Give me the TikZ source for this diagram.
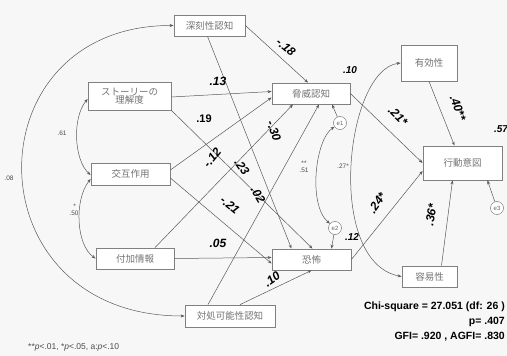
\documentclass[tikz,border=0pt]{standalone}
\usepackage{fontspec}
\setmainfont{Liberation Sans}
\newfontfamily\jp{Noto Sans CJK JP}
\usetikzlibrary{arrows.meta,calc}
\begin{document}
\begin{tikzpicture}[x=1pt,y=-1pt,
  box/.style={draw=black!50,line width=0.8pt,fill=white,font=\jp\fontsize{9.5}{10}\selectfont,text=black!55,inner sep=0pt,align=center},
  err/.style={circle,draw=black!60,fill=white,minimum size=13pt,inner sep=0pt,font=\fontsize{6}{6}\selectfont,text=black!60},
  pth/.style={draw=black!65,line width=0.5pt,-{Stealth[length=4pt,width=3pt]}},
  cor/.style={draw=black!65,line width=0.5pt,{Stealth[length=4pt,width=3pt]}-{Stealth[length=4pt,width=3pt]}},
  coef/.style={font=\bfseries\itshape\fontsize{12}{12}\selectfont,inner sep=0pt},
  r2/.style={font=\bfseries\itshape\fontsize{10}{10}\selectfont,inner sep=0pt},
  small/.style={font=\fontsize{6.5}{7}\selectfont,inner sep=0pt,align=center,text=black!70},
  stat/.style={font=\bfseries\fontsize{10.5}{11}\selectfont,inner sep=0pt,anchor=east},
]
\fill[black!3] (0,0) rectangle (507,356);
\useasboundingbox (0,0) rectangle (507,356);

% boxes
\node[box,minimum width=71pt,minimum height=21pt] (sev) at (209.5,25.5) {深刻性認知};
\node[box,minimum width=83pt,minimum height=28pt] (story) at (129.5,96) {ストーリーの\\[-2pt]理解度};
\node[box,minimum width=79pt,minimum height=22pt] (inter) at (130.5,174) {交互作用};
\node[box,minimum width=78pt,minimum height=21pt] (add) at (135,258.5) {付加情報};
\node[box,minimum width=90pt,minimum height=22pt] (cope) at (230,316) {対処可能性認知};
\node[box,minimum width=78pt,minimum height=21pt] (threat) at (311,93.5) {脅威認知};
\node[box,minimum width=79pt,minimum height=21pt] (fear) at (311.5,259.5) {恐怖};
\node[box,minimum width=56pt,minimum height=36pt] (eff) at (429,63) {有効性};
\node[box,minimum width=79pt,minimum height=34pt] (intent) at (462.5,163) {行動意図};
\node[box,minimum width=55pt,minimum height=21pt] (ease) at (429.5,276.5) {容易性};

\node[err] (e1) at (340,123) {e1};
\node[err] (e2) at (335,228) {e2};
\node[err] (e3) at (497,208) {e3};

% paths
\path[pth] (sev.east) -- ([xshift=-3pt]threat.north);
\path[pth] ([xshift=-2pt]sev.south) -- ([xshift=-20pt]fear.north);
\path[pth] ([yshift=-1pt]story.east) -- ([yshift=2pt]threat.west);
\path[pth] (story.south east) -- ([xshift=1pt]fear.north);
\path[pth] ([yshift=4pt]inter.east) -- ([yshift=-4pt]threat.west);
\path[pth] ([yshift=-4pt]inter.east) -- ([yshift=-4pt]fear.west);
\path[pth] (add.east) -- ([yshift=2pt]fear.west);
\path[pth] ([xshift=20pt]add.north) -- ([xshift=-18pt]threat.south);
\path[pth] ([xshift=-22pt]cope.north) -- ([xshift=8pt]threat.south);
\path[pth] ([xshift=10pt]cope.north) -- (fear.south);
\path[pth] (e1) -- ([xshift=21pt]threat.south);
\path[pth] (e2) -- ([xshift=20pt]fear.north);
\path[pth] (threat.east) -- (intent.west);
\path[pth] (fear.east) -- ([yshift=-8pt]intent.west);
\path[pth] (eff.south) -- ([xshift=-8pt]intent.north);
\path[pth] ([xshift=12pt]ease.north) -- ([xshift=-10pt]intent.south);
\path[pth] (e3) -- ([xshift=25pt]intent.south);

% correlations
\path[cor] (sev.west) .. controls (-30,25) and (-30,316) .. (cope.west);
\path[cor] ([yshift=-3pt]story.west) .. controls (72,118) and (74,160) .. ([yshift=-1pt]inter.west);
\path[cor] ([yshift=-5pt]inter.west) .. controls (74,200) and (76,245) .. (add.west);
\path[cor] (e1) .. controls (315,140) and (308,205) .. (e2);
\path[cor] (eff.west) .. controls (345,70) and (325,262) .. (ease.west);

% coefficients
\node[coef,rotate=-40] (c1) at (286,47) {-.18};
\node[coef] (c2) at (218,81) {.13};
\node[coef,font=\bfseries\fontsize{11}{11}\selectfont] (c3) at (204,119) {.19};
\node[coef,rotate=50] (c4) at (212,158) {-.12};
\node[coef,rotate=-55] (c5) at (242,167) {.23};
\node[coef,rotate=-70] (c6) at (274,131) {-.30};
\node[coef,rotate=-60] (c7) at (258,195) {.02};
\node[coef,rotate=-40] (c8) at (230,205) {-.21};
\node[coef] (c9) at (218,243) {.05};
\node[coef,rotate=35] (c10) at (272,279) {.10};
\node[coef,rotate=-45] (c11) at (398,116) {.21*};
\node[coef,rotate=55] (c12) at (377,203) {.24*};
\node[coef,rotate=-70] (c13) at (458,108) {.40**};
\node[coef,rotate=80] (c14) at (431,215) {.36*};

\node[r2] (r1) at (350,70) {.10};
\node[r2] (r2) at (352,237) {.12};
\node[r2] (r3) at (501,129) {.57};

\node[small] (k1) at (9,178) {.08};
\node[small] (k2) at (62,133) {.61};
\node[small] (k3) at (74,210) {\,*\\.50};
\node[small] (k4) at (304,167) {**\\.51};
\node[small] (k5) at (343,166) {.27*};

\node[font=\fontsize{8.5}{9}\selectfont,text=black!70,anchor=west,inner sep=0pt] (note) at (28,347) {**\textit{p}<.01, *\textit{p}<.05, a:\textit{p}<.10};
\node[stat] (s1) at (505,307) {Chi-square = 27.051 (df: 26 )};
\node[stat] (s2) at (505,322) {p= .407};
\node[stat] (s3) at (505,337) {GFI= .920 , AGFI= .830};
\end{tikzpicture}
\end{document}
